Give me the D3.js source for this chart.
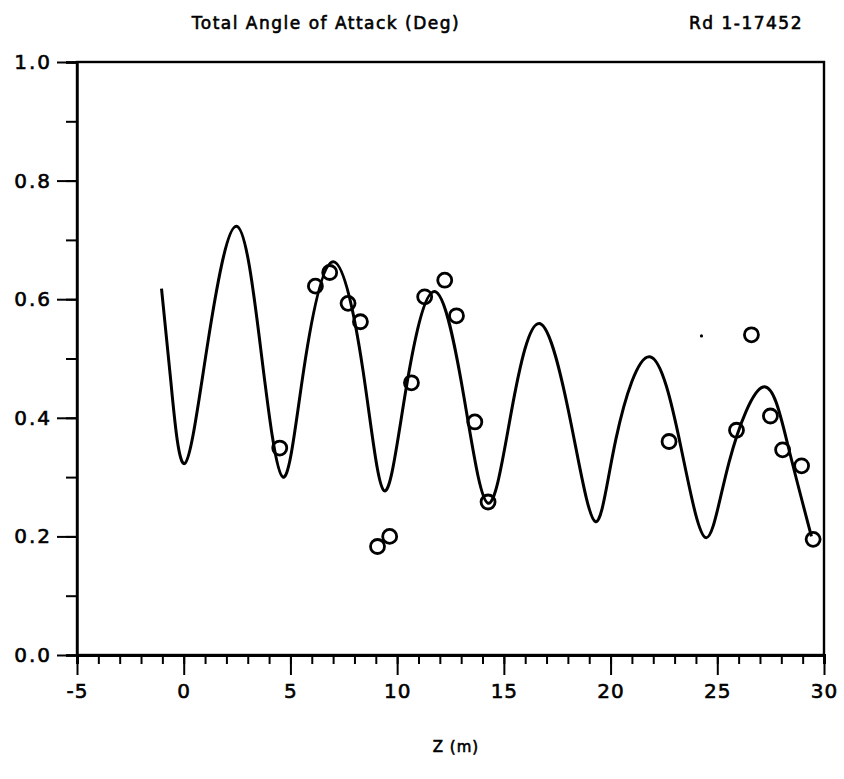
<!DOCTYPE html>
<html><head><meta charset="utf-8">
<script src="https://cdn.jsdelivr.net/npm/d3@7"></script>
<style>
body{margin:0;background:#fff;}
svg text{font-family:"DejaVu Sans",sans-serif;fill:#000;}
</style></head>
<body><svg id="c" width="844" height="779"></svg>
<script>
// ---- data ----
const titleText = "Total Angle of Attack (Deg)";
const runText = "Rd 1-17452";
const xLabel = "Z  (m)";
const xTickValues = [-5, 0, 5, 10, 15, 20, 25, 30];
const xTickLabels = ["-5", "0", "5", "10", "15", "20", "25", "30"];
const yTickValues = [0, 0.2, 0.4, 0.6, 0.8, 1.0];
const yTickLabels = ["0.0", "0.2", "0.4", "0.6", "0.8", "1.0"];

// fitted curve (Z, angle): extremes and mid-level crossings
const curveZ = [-1.04,-0.6,0.05,1.1,2.47,3.63,4.65,5.62,7.0,8.4,9.39,10.4,11.76,13.13,14.26,15.35,16.68,18.15,19.29,20.25,21.84,23.3,24.46,25.55,27.15,28.3,29.41];
const curveA = [0.618,0.46,0.323,0.52,0.723,0.51,0.300,0.48,0.663,0.48,0.277,0.445,0.613,0.435,0.256,0.41,0.559,0.39,0.225,0.364,0.503,0.35,0.198,0.325,0.452,0.355,0.20];

// measured data (open circles)
const pointZ = [4.50,6.17,6.84,7.70,8.28,9.08,9.65,10.67,11.29,12.23,12.78,13.64,14.26,22.74,25.90,26.60,27.49,28.06,28.95,29.49];
const pointA = [0.349,0.622,0.645,0.593,0.562,0.183,0.200,0.459,0.604,0.632,0.572,0.393,0.258,0.360,0.379,0.540,0.403,0.346,0.319,0.195];
// stray dot
const dotZ = [24.26];
const dotA = [0.538];

// ---- drawing ----
const W = 844, H = 779;
const m = {left: 77, right: 20, top: 62, bottom: 124};
const svg = d3.select("#c");
const x = d3.scaleLinear().domain([-5, 30]).range([m.left, W - m.right]);
const y = d3.scaleLinear().domain([0, 1]).range([H - m.bottom, m.top]);

const FONT = "DejaVu Sans";
const fatten = s => s.attr("stroke", "#000").attr("stroke-width", 0.6);

// frame
svg.append("rect").attr("x", x(-5)).attr("y", y(1)).attr("width", x(30) - x(-5)).attr("height", y(0) - y(1))
  .attr("fill", "none").attr("stroke", "#000").attr("stroke-width", 2.4);

// x axis: minor ticks
const xAxisMinor = d3.axisBottom(x).tickValues(d3.range(-5, 31, 1)).tickSize(9).tickFormat("");
svg.append("g").attr("transform", `translate(0,${y(0)})`).call(xAxisMinor)
  .call(g => g.select(".domain").attr("stroke-width", 3))
  .call(g => g.selectAll(".tick line").attr("stroke-width", 2));
const xAxisMajor = d3.axisBottom(x).tickValues(xTickValues).tickSize(20).tickPadding(9)
  .tickFormat((d, i) => xTickLabels[i]);
svg.append("g").attr("transform", `translate(0,${y(0)})`).call(xAxisMajor)
  .call(g => g.select(".domain").remove())
  .call(g => g.selectAll(".tick line").attr("stroke-width", 2))
  .call(g => g.selectAll(".tick text").attr("font-size", 20).attr("font-family", FONT).attr("fill", "#000").attr("letter-spacing", 1).call(fatten));

// y axis
const yAxisMinor = d3.axisLeft(y).tickValues(d3.range(0, 1.01, 0.1)).tickSize(11).tickFormat("");
svg.append("g").attr("transform", `translate(${x(-5)},0)`).call(yAxisMinor)
  .call(g => g.select(".domain").attr("stroke-width", 2.4))
  .call(g => g.selectAll(".tick line").attr("stroke-width", 2));
const yAxisMajor = d3.axisLeft(y).tickValues(yTickValues).tickSize(20).tickPadding(5)
  .tickFormat((d, i) => yTickLabels[i]);
svg.append("g").attr("transform", `translate(${x(-5)},0)`).call(yAxisMajor)
  .call(g => g.select(".domain").remove())
  .call(g => g.selectAll(".tick line").attr("stroke-width", 2))
  .call(g => g.selectAll(".tick text").attr("font-size", 20).attr("font-family", FONT).attr("fill", "#000").attr("letter-spacing", 2).call(fatten));

// curve
const curveData = curveZ.map((z, i) => [z, curveA[i]]);
svg.append("path").datum(curveData)
  .attr("d", d3.line().x(d => x(d[0])).y(d => y(d[1])).curve(d3.curveNatural))
  .attr("fill", "none").attr("stroke", "#000").attr("stroke-width", 3).attr("stroke-linejoin", "round");

// circles
const pts = pointZ.map((z, i) => [z, pointA[i]]);
svg.append("g").selectAll("circle").data(pts).join("circle")
  .attr("cx", d => x(d[0])).attr("cy", d => y(d[1])).attr("r", 7)
  .attr("fill", "none").attr("stroke", "#000").attr("stroke-width", 2.8);

// stray dot
svg.append("g").selectAll("circle").data(dotZ.map((z, i) => [z, dotA[i]])).join("circle")
  .attr("cx", d => x(d[0])).attr("cy", d => y(d[1])).attr("r", 1.6).attr("fill", "#000");

// titles
svg.append("text").attr("x", 326).attr("y", 29).attr("text-anchor", "middle")
  .attr("font-size", 17).attr("letter-spacing", 1.5).call(fatten).text(titleText);
svg.append("text").attr("x", 746).attr("y", 29).attr("text-anchor", "middle")
  .attr("font-size", 17).attr("letter-spacing", 1.5).call(fatten).text(runText);
svg.append("text").attr("x", 456).attr("y", 752).attr("text-anchor", "middle")
  .attr("font-size", 15).attr("letter-spacing", 1).call(fatten).text(xLabel);
</script></body></html>
